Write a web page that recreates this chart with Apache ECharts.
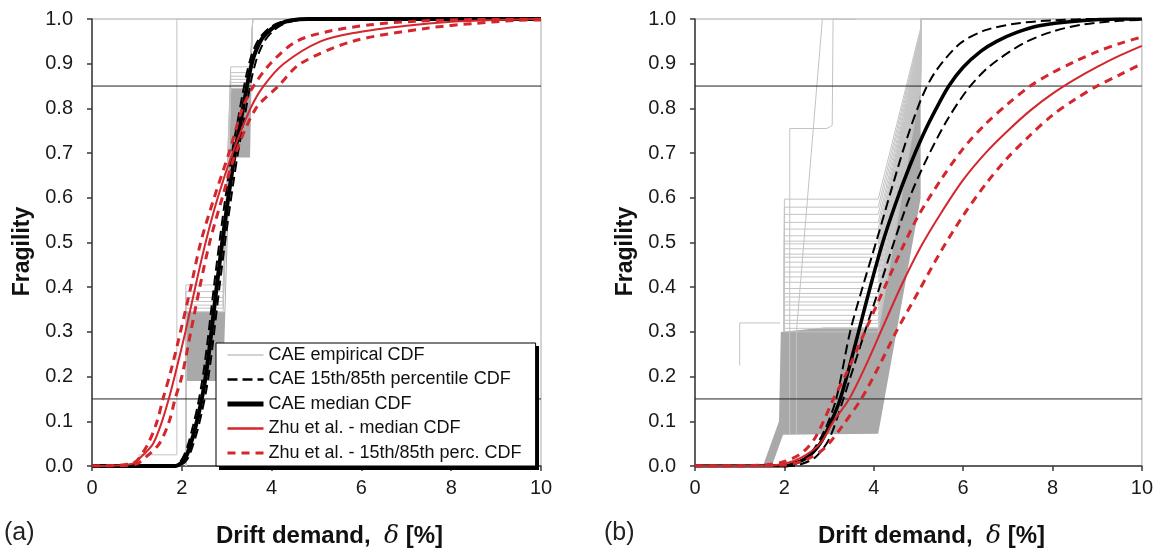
<!DOCTYPE html>
<html>
<head>
<meta charset="utf-8">
<script src="https://cdn.jsdelivr.net/npm/echarts@6/dist/echarts.min.js"></script>
<style>
html, body { margin: 0; padding: 0; background: #fff; }
#chart { width: 1156px; height: 554px; }
</style>
</head>
<body>
<div id="chart"></div>
<script>
// values (x = drift %, y = fragility)
const thresholds = [0.15, 0.85];

// ---- panel (a) ----
const aCaeMed = [[0,0],[1.85,0],[2.0,0.008],[2.1,0.022],[2.2,0.05],[2.3,0.085],[2.4,0.128],[2.5,0.18],[2.6,0.25],[2.7,0.335],[2.8,0.42],[2.9,0.5],[3.0,0.575],[3.1,0.645],[3.2,0.71],[3.3,0.765],[3.4,0.82],[3.5,0.875],[3.6,0.915],[3.7,0.94],[3.8,0.958],[4.0,0.978],[4.2,0.99],[4.45,0.997],[4.8,1.0],[10,1.0]];
const aCaeHi = [[0,0],[1.8,0],[1.95,0.008],[2.05,0.024],[2.15,0.052],[2.25,0.09],[2.35,0.133],[2.45,0.188],[2.55,0.26],[2.65,0.345],[2.75,0.43],[2.85,0.51],[2.95,0.585],[3.05,0.655],[3.15,0.72],[3.25,0.775],[3.35,0.83],[3.45,0.88],[3.55,0.918],[3.65,0.943],[3.75,0.96],[3.95,0.98],[4.15,0.991],[4.4,0.997],[4.7,1.0],[10,1.0]];
const aCaeLo = [[0,0],[1.9,0],[2.05,0.007],[2.15,0.02],[2.25,0.047],[2.35,0.08],[2.45,0.122],[2.55,0.172],[2.65,0.24],[2.75,0.325],[2.85,0.41],[2.95,0.49],[3.05,0.565],[3.15,0.635],[3.25,0.7],[3.35,0.755],[3.45,0.81],[3.55,0.865],[3.65,0.905],[3.75,0.932],[3.85,0.952],[4.05,0.975],[4.25,0.988],[4.5,0.996],[4.9,1.0],[10,1.0]];
const aZhuMed = [[0,0],[0.5,0.001],[0.9,0.005],[1.09,0.02],[1.36,0.05],[1.56,0.1],[1.71,0.15],[1.84,0.2],[2.08,0.3],[2.3,0.4],[2.53,0.5],[2.8,0.6],[3.13,0.7],[3.53,0.8],[3.82,0.85],[4.27,0.9],[5.09,0.95],[5.9,0.97],[7.0,0.985],[8.0,0.994],[9.0,0.998],[10,1.0]];
const aZhuHi = [[0,0],[0.5,0.001],[0.85,0.005],[1.0,0.012],[1.25,0.05],[1.45,0.1],[1.58,0.15],[1.75,0.21],[1.97,0.3],[2.2,0.4],[2.42,0.5],[2.72,0.6],[3.05,0.7],[3.35,0.8],[3.6,0.85],[3.97,0.9],[4.55,0.95],[5.3,0.973],[6.2,0.987],[7.2,0.995],[8.5,0.999],[10,1.0]];
const aZhuLo = [[0,0],[0.7,0.001],[1.0,0.005],[1.2,0.02],[1.5,0.05],[1.72,0.1],[1.85,0.15],[2.0,0.2],[2.2,0.3],[2.4,0.4],[2.62,0.5],[2.9,0.6],[3.2,0.7],[3.65,0.8],[4.15,0.85],[4.64,0.9],[5.8,0.95],[7.5,0.98],[8.5,0.99],[9.5,0.997],[10,0.998]];
// empirical CDFs (a): dense bundle outline, separate upper lines, one outlier
const aBand = [[2.09,0],[2.1,0],[2.1,0.19],[2.92,0.19],[3.08,0.69],[3.52,0.69],[3.58,1.0],[3.52,0.845],[3.1,0.845],[2.95,0.345],[2.09,0.345]];
const aEmpL1 = [0.345, 0.353, 0.36, 0.368, 0.377, 0.39, 0.405];
const aEmpL2 = [0.845, 0.852, 0.858, 0.865, 0.872, 0.88, 0.893];
const aEmpX = [2.09, 2.92, 3.09, 3.52, 3.58];
const aEmpOut = [[1.05,0],[1.05,0.025],[1.89,0.025],[1.89,1.0],[10,1.0]];

// ---- panel (b) ----
const bCaeMed = [[0,0],[2.0,0],[2.2,0.005],[2.5,0.018],[2.8,0.05],[3.05,0.1],[3.25,0.15],[3.45,0.22],[3.66,0.3],[3.92,0.4],[4.2,0.5],[4.5,0.59],[4.8,0.67],[5.1,0.74],[5.4,0.8],[5.68,0.85],[6.0,0.892],[6.4,0.928],[6.75,0.95],[7.2,0.97],[7.7,0.985],[8.5,0.995],[9.5,1.0],[10,1.0]];
const bCaeHi = [[0,0],[2.0,0],[2.3,0.008],[2.6,0.03],[2.9,0.08],[3.16,0.15],[3.47,0.3],[3.75,0.4],[4.05,0.5],[4.4,0.62],[4.75,0.735],[5.1,0.83],[5.4,0.885],[5.93,0.945],[6.5,0.975],[7.2,0.99],[8.0,0.997],[9.0,1.0],[10,1.0]];
const bCaeLo = [[0,0],[2.1,0],[2.4,0.005],[2.7,0.02],[3.0,0.06],[3.32,0.15],[3.8,0.3],[4.13,0.4],[4.45,0.5],[4.8,0.6],[5.2,0.69],[5.65,0.775],[6.12,0.845],[6.6,0.895],[7.34,0.945],[8.0,0.972],[8.7,0.988],[9.5,0.996],[10,0.998]];
const bZhuMed = [[0,0],[1.5,0],[2.0,0.005],[2.4,0.02],[2.8,0.05],[3.1,0.1],[3.45,0.15],[3.8,0.22],[4.2,0.31],[4.6,0.4],[5.05,0.49],[5.5,0.565],[6.0,0.64],[6.5,0.7],[7.0,0.75],[7.5,0.795],[8.0,0.833],[8.5,0.865],[9.0,0.893],[9.5,0.918],[10,0.94]];
const bZhuHi = [[0,0],[1.5,0.002],[2.0,0.01],[2.4,0.03],[2.7,0.065],[3.1,0.15],[3.4,0.21],[3.8,0.3],[4.2,0.39],[4.65,0.49],[5.0,0.56],[5.5,0.64],[6.0,0.71],[6.5,0.765],[7.0,0.81],[7.5,0.85],[8.0,0.88],[8.5,0.905],[9.0,0.927],[9.5,0.945],[10,0.96]];
const bZhuLo = [[0,0],[2.0,0.002],[2.5,0.015],[2.9,0.04],[3.3,0.09],[3.72,0.15],[4.1,0.22],[4.5,0.3],[5.0,0.39],[5.5,0.48],[6.0,0.56],[6.5,0.63],[7.0,0.69],[7.5,0.74],[8.0,0.785],[8.5,0.82],[9.0,0.85],[9.5,0.875],[10,0.9]];
// empirical CDFs (b)
const bBand = [[1.52,0],[1.72,0],[1.97,0.07],[4.1,0.072],[5.05,0.6],[5.05,0.85],[4.1,0.31],[2.9,0.31],[1.92,0.3],[1.88,0.1]];
const bEmpL = [0.3,0.308,0.319,0.326,0.337,0.349,0.36,0.367,0.378,0.386,0.397,0.411,0.423,0.434,0.445,0.456,0.467,0.474,0.486,0.497,0.503,0.515,0.53,0.545,0.563,0.579,0.597];
const bEmpE = [0.85,0.855,0.86,0.865,0.87,0.875,0.88,0.885,0.89,0.895,0.9,0.905,0.91,0.915,0.92,0.925,0.93,0.935,0.94,0.945,0.95,0.955,0.96,0.965,0.97,0.975,0.98];
const bEmpX = [2.0, 4.1, 5.05];
const bEmpOut = [
  [[1.0,0.225],[1.0,0.32],[1.9,0.32]],
  [[2.12,0.07],[2.12,0.755],[2.95,0.755],[3.07,0.762],[3.09,1.0],[3.58,1.0]],
  [[2.27,0.07],[2.27,0.3],[2.85,1.0],[3.6,1.0]]
];

const NAMES = ['CAE empirical CDF', 'CAE 15th/85th percentile CDF', 'CAE median CDF',
  'Zhu et al. - median CDF', 'Zhu et al. - 15th/85th perc. CDF'];
const SANS = '"Liberation Sans", Arial, sans-serif';
const RED = '#d3262d';
const GREY = '#c3c3c3';

const myChart = echarts.init(document.getElementById('chart'));

function curve(name, data, g, lineStyle) {
  return {
    type: 'line', name: name, xAxisIndex: g, yAxisIndex: g, data: data,
    symbol: 'none', showSymbol: false, smooth: 0.3,
    itemStyle: { color: lineStyle.color },
    lineStyle: lineStyle, silent: true
  };
}
function empLine(data, g) {
  return {
    type: 'line', name: NAMES[0], xAxisIndex: g, yAxisIndex: g, data: data,
    symbol: 'none', showSymbol: false, silent: true,
    itemStyle: { color: GREY },
    lineStyle: { color: GREY, width: 1 }
  };
}
function band(pts, g) {
  return {
    type: 'custom', name: 'band' + g, xAxisIndex: g, yAxisIndex: g, data: [[0, 0]], silent: true,
    renderItem: function (params, api) {
      return {
        type: 'polygon',
        shape: { points: pts.map(function (p) { return api.coord(p); }) },
        style: { fill: '#a9a9a9' }
      };
    }
  };
}
function thrLine(y, g) {
  return {
    type: 'line', name: 'thr', xAxisIndex: g, yAxisIndex: g, data: [[0, y], [10, y]],
    symbol: 'none', silent: true, lineStyle: { color: '#222', width: 1 }
  };
}

let series = [];
// panel a empirical
series.push(band(aBand, 0));
series.push(empLine(aEmpOut, 0));
aEmpL1.forEach(function (l1, i) {
  const l2 = aEmpL2[i];
  series.push(empLine([[aEmpX[0], 0], [aEmpX[0], l1], [aEmpX[1], l1], [aEmpX[2], l2], [aEmpX[3], l2], [aEmpX[4], 1], [10, 1]], 0));
});
// panel b empirical
series.push(band(bBand, 1));
bEmpL.forEach(function (l, i) {
  series.push(empLine([[bEmpX[0], 0.3], [bEmpX[0], l], [bEmpX[1], l], [bEmpX[2], bEmpE[i]], [bEmpX[2], 1], [10, 1]], 1));
});
bEmpOut.forEach(function (p) { series.push(empLine(p, 1)); });

[0, 1].forEach(function (g) {
  thresholds.forEach(function (t) { series.push(thrLine(t, g)); });
});

const blackDash = { color: '#000', width: 2, type: [10, 5] };
const blackSolid = { color: '#000', width: 4 };
const redSolid = { color: RED, width: 2 };
const redDash = { color: RED, width: 3, type: [8, 6] };

series.push(curve(NAMES[1], aCaeHi, 0, blackDash));
series.push(curve(NAMES[1], aCaeLo, 0, blackDash));
series.push(curve(NAMES[2], aCaeMed, 0, blackSolid));
series.push(curve(NAMES[3], aZhuMed, 0, redSolid));
series.push(curve(NAMES[4], aZhuHi, 0, redDash));
series.push(curve(NAMES[4], aZhuLo, 0, redDash));

series.push(curve(NAMES[1], bCaeHi, 1, blackDash));
series.push(curve(NAMES[1], bCaeLo, 1, blackDash));
series.push(curve(NAMES[2], bCaeMed, 1, { color: '#000', width: 3.5 }));
series.push(curve(NAMES[3], bZhuMed, 1, redSolid));
series.push(curve(NAMES[4], bZhuHi, 1, redDash));
series.push(curve(NAMES[4], bZhuLo, 1, redDash));

function xAxis(g) {
  return {
    gridIndex: g, type: 'value', min: 0, max: 10, interval: 2,
    axisLine: { show: true, onZero: false, lineStyle: { color: '#3a3a3a', width: 1.5 } },
    axisTick: { show: true, length: 5, lineStyle: { color: '#3a3a3a', width: 1.5 } },
    axisLabel: { fontSize: 20, color: '#1a1a1a', fontFamily: SANS, margin: 12 },
    splitLine: { show: false },
    name: '{b|Drift demand,  }{d|δ}{b| [%]}',
    nameLocation: 'middle', nameGap: 58,
    nameTextStyle: {
      padding: [0, 0, 0, 26],
      rich: {
        b: { fontSize: 24, fontWeight: 'bold', fontFamily: SANS, color: '#111' },
        d: { fontSize: 25, fontStyle: 'italic', fontFamily: '"DejaVu Serif", serif', color: '#111' }
      }
    }
  };
}
function yAxis(g) {
  return {
    gridIndex: g, type: 'value', min: 0, max: 1, interval: 0.1,
    axisLine: { show: true, onZero: false, lineStyle: { color: '#3a3a3a', width: 1.5 } },
    axisTick: { show: true, length: 5, lineStyle: { color: '#3a3a3a', width: 1.5 } },
    axisLabel: { fontSize: 20, color: '#1a1a1a', fontFamily: SANS, margin: 19,
      formatter: function (v) { return v.toFixed(1); } },
    splitLine: { show: false },
    name: 'Fragility', nameLocation: 'middle', nameRotate: 90, nameGap: 58,
    nameTextStyle: { fontSize: 23, fontWeight: 'bold', fontFamily: SANS, color: '#111', padding: [0, 18, 0, 0] }
  };
}

const option = {
  animation: false,
  backgroundColor: '#fff',
  grid: [
    { left: 92, top: 19, width: 449, height: 449, show: true, borderColor: '#a8a8a8', borderWidth: 1 },
    { left: 695, top: 19, width: 447, height: 449, show: true, borderColor: '#a8a8a8', borderWidth: 1 }
  ],
  xAxis: [xAxis(0), xAxis(1)],
  yAxis: [yAxis(0), yAxis(1)],
  legend: {
    data: [
      { name: NAMES[0], lineStyle: { width: 1.5 } },
      { name: NAMES[1], lineStyle: { width: 2.5, type: [10, 5] } },
      { name: NAMES[2], lineStyle: { width: 5 } },
      { name: NAMES[3], lineStyle: { width: 2.5 } },
      { name: NAMES[4], lineStyle: { width: 3, type: [8, 6] } }
    ],
    orient: 'vertical', left: 216, top: 343,
    itemWidth: 36, itemHeight: 14, itemGap: 6.5,
    padding: [3, 14, 4, 9],
    backgroundColor: '#fff', borderColor: '#000', borderWidth: 1,
    selectedMode: false,
    itemStyle: { opacity: 0 },
    textStyle: { fontSize: 18, fontFamily: SANS, color: '#111' },
    z: 30
  },
  graphic: [
    // drop shadow behind the legend box
    { type: 'rect', z: 20, shape: { x: 219, y: 346, width: 320, height: 124 }, style: { fill: '#000' } },
    { type: 'text', left: 4, top: 521, style: { text: '(a)', fontSize: 25, fontFamily: SANS, fill: '#222' } },
    { type: 'text', left: 604, top: 521, style: { text: '(b)', fontSize: 25, fontFamily: SANS, fill: '#222' } }
  ],
  series: series
};
myChart.setOption(option);
</script>
</body>
</html>
